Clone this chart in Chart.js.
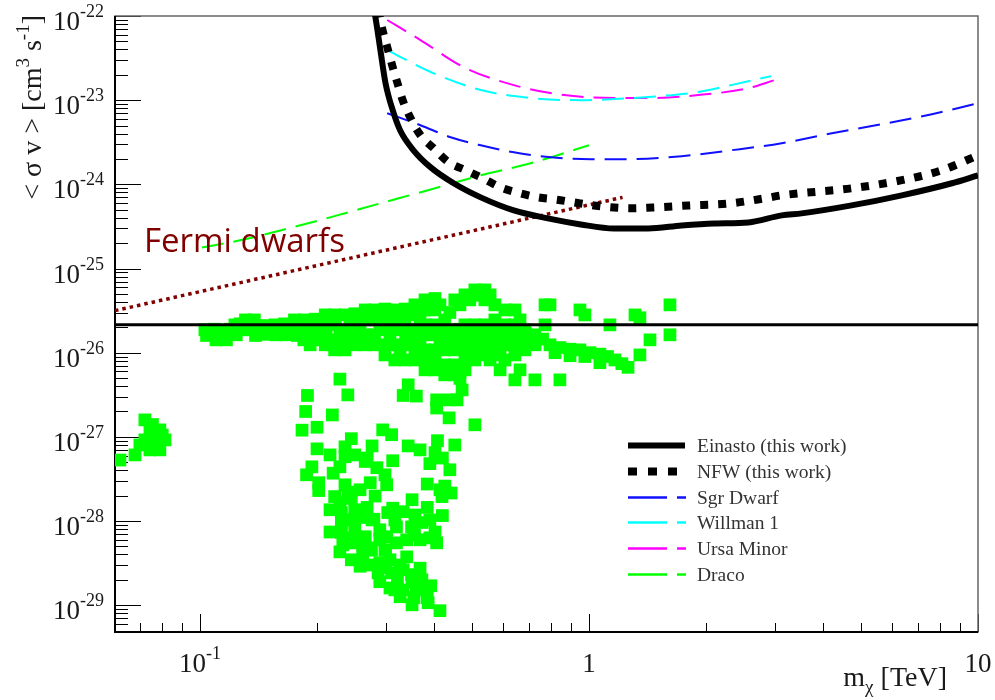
<!DOCTYPE html>
<html>
<head>
<meta charset="utf-8">
<title>Annihilation cross-section limits</title>
<script src="https://cdn.jsdelivr.net/npm/chart.js@4.4.1/dist/chart.umd.min.js"></script>
<style>
html,body{margin:0;padding:0;background:#ffffff;}
canvas{display:block;}
</style>
</head>
<body>
<canvas id="chart" width="995" height="700"></canvas>
<script>
// ---------------- data (mass in TeV, <sigma v> in cm^3 s^-1) ----------------
const einastoMass  = [0.279, 0.2825, 0.291, 0.300, 0.313, 0.327, 0.354, 0.392, 0.449, 0.527, 0.641, 0.784, 0.953, 1.16, 1.42, 1.73, 2.10, 2.57, 3.13, 3.52, 4.73, 6.37, 8.57, 10];
const einastoSigma = [1.3e-22, 9.7e-23, 3.94e-23, 1.59e-23, 7.6e-24, 4.39e-24, 2.54e-24, 1.59e-24, 1.03e-24, 7.0e-25, 4.9e-25, 3.94e-25, 3.34e-25, 2.99e-25, 2.99e-25, 3.25e-25, 3.43e-25, 3.53e-25, 4.28e-25, 4.52e-25, 5.62e-25, 7.4e-25, 1.03e-24, 1.28e-24];

const nfwMass  = [0.288, 0.291, 0.296, 0.303, 0.313, 0.322, 0.332, 0.348, 0.369, 0.399, 0.436, 0.482, 0.533, 0.593, 0.668, 0.739, 0.822, 0.915, 1.03, 1.16, 1.28, 1.45, 1.80, 2.28, 2.82, 3.13, 4.73, 6.37, 8.07, 10];
const nfwSigma = [1.2e-22, 8.96e-23, 6.28e-23, 4.28e-23, 2.47e-23, 1.59e-23, 1.0e-23, 6.1e-24, 3.83e-24, 2.68e-24, 1.83e-24, 1.47e-24, 1.18e-24, 9.2e-25, 7.8e-25, 7.0e-25, 6.6e-25, 6.1e-25, 5.6e-25, 5.3e-25, 5.2e-25, 5.3e-25, 5.6e-25, 5.9e-25, 6.8e-25, 7.4e-25, 8.96e-25, 1.12e-24, 1.47e-24, 2.21e-24];

const sgrMass  = [0.303, 0.369, 0.441, 0.527, 0.641, 0.798, 1.01, 1.28, 1.73, 2.32, 3.13, 4.21, 5.66, 7.61, 10];
const sgrSigma = [7.0e-24, 5.04e-24, 3.63e-24, 2.91e-24, 2.40e-24, 2.10e-24, 1.99e-24, 1.99e-24, 2.16e-24, 2.54e-24, 3.08e-24, 4.05e-24, 5.18e-24, 6.8e-24, 9.2e-24];

const willmanMass  = [0.303, 0.392, 0.527, 0.708, 0.953, 1.16, 1.42, 1.91, 2.32, 2.94];
const willmanSigma = [3.94e-23, 2.16e-23, 1.32e-23, 1.06e-23, 1.0e-23, 1.03e-23, 1.09e-23, 1.25e-23, 1.51e-23, 1.93e-23];

const ursaMass  = [0.303, 0.369, 0.476, 0.641, 0.863, 1.16, 1.42, 1.91, 2.57, 3.0];
const ursaSigma = [8.96e-23, 5.18e-23, 2.47e-23, 1.51e-23, 1.15e-23, 1.06e-23, 1.06e-23, 1.15e-23, 1.39e-23, 1.73e-23];

const dracoMass  = [0.1012, 0.1268, 0.161, 0.216, 0.291, 0.392, 0.527, 0.708, 1.0];
const dracoSigma = [1.78e-25, 2.16e-25, 2.83e-25, 4.05e-25, 5.94e-25, 8.7e-25, 1.28e-24, 1.78e-24, 2.91e-24];

const fermiMass  = [0.0605, 1.22];
const fermiSigma = [3.16e-26, 7.0e-25];

const relicMass  = [0.0605, 10];
const relicSigma = [2.15e-26, 2.15e-26];

// model scan points [mass, <sigma v>]
const scanLight = [[0.0722,1.59e-27],[0.0744,1.21e-27],[0.0789,1.21e-27],[0.0722,9.2e-28],[0.0766,9.2e-28],[0.0813,9.2e-28],[0.0789,7.0e-28],[0.0744,7.0e-28],[0.0701,8.0e-28],[0.0681,6.1e-28],[0.0623,5.3e-28],[0.0755,1.4e-27],[0.0800,1.05e-27]];

const scanBandLow = [[0.103,1.87e-26],[0.104,1.6e-26],[0.109,1.9e-26],[0.110,1.42e-26],[0.116,1.85e-26],[0.117,1.42e-26],[0.123,2.14e-26],[0.124,1.63e-26],[0.131,2.45e-26],[0.130,1.87e-26],[0.138,2.45e-26],[0.139,1.6e-26],[0.147,2.1e-26],[0.146,1.65e-26],[0.156,2.14e-26],[0.157,1.63e-26],[0.165,2.2e-26],[0.166,1.63e-26],[0.175,2.45e-26],[0.174,1.87e-26],
 [0.106,1.7e-26],[0.113,1.6e-26],[0.120,1.9e-26],[0.127,2.2e-26],[0.134,2.0e-26],[0.142,1.9e-26],[0.151,1.85e-26],[0.160,1.9e-26],[0.170,2.0e-26],[0.178,1.6e-26]];

const scanBandMid = [[0.186,2.45e-26],[0.187,1.87e-26],[0.185,1.42e-26],
 [0.198,2.5e-26],[0.197,1.87e-26],[0.199,1.42e-26],[0.192,1.24e-26],
 [0.210,2.81e-26],[0.209,2.14e-26],[0.211,1.63e-26],[0.210,1.24e-26],
 [0.222,2.81e-26],[0.223,2.14e-26],[0.221,1.42e-26],[0.222,1.08e-26],
 [0.236,2.81e-26],[0.235,1.87e-26],[0.237,1.42e-26],[0.236,1.08e-26],
 [0.250,2.9e-26],[0.251,2.14e-26],[0.249,1.63e-26],[0.250,1.24e-26],
 [0.266,3.22e-26],[0.265,2.45e-26],[0.267,1.63e-26],[0.266,1.24e-26],
 [0.282,3.22e-26],[0.283,2.45e-26],[0.281,1.63e-26],[0.282,1.24e-26],
 [0.299,3.3e-26],[0.298,2.45e-26],[0.300,1.87e-26],[0.299,1.24e-26],[0.299,9.4e-27],
 [0.317,3.22e-26],[0.318,2.45e-26],[0.316,1.87e-26],[0.317,1.24e-26],[0.317,8.2e-27],
 [0.337,3.3e-26],[0.336,2.45e-26],[0.338,1.63e-26],[0.337,1.24e-26],[0.337,8.2e-27],
 [0.357,3.70e-26],[0.356,2.81e-26],[0.358,1.87e-26],[0.357,1.42e-26],[0.357,1.08e-26],[0.357,8.2e-27],
 [0.379,4.24e-26],[0.378,3.22e-26],[0.380,2.14e-26],[0.379,1.63e-26],[0.379,1.08e-26],[0.379,8.2e-27],[0.379,6.25e-27],
 [0.402,4.4e-26],[0.401,3.22e-26],[0.403,2.14e-26],[0.402,1.63e-26],[0.402,1.08e-26],[0.402,8.2e-27],[0.402,6.25e-27],
 [0.192,2.1e-26],[0.204,1.65e-26],[0.216,2.45e-26],[0.229,1.65e-26],[0.243,2.4e-26],[0.258,1.9e-26],[0.274,2.8e-26],[0.274,1.42e-26],[0.290,2.1e-26],[0.308,2.8e-26],[0.308,1.5e-26],[0.327,2.1e-26],[0.327,1.0e-26],[0.347,1.9e-26],[0.368,2.6e-26],[0.368,1.25e-26],[0.390,1.9e-26],[0.390,9.4e-27],[0.414,3.7e-26],[0.414,1.3e-26]];

const scanBandHigh = [[0.426,2.45e-26],[0.426,1.87e-26],[0.425,1.42e-26],[0.427,1.08e-26],[0.426,7.16e-27],[0.426,5.45e-27],
 [0.452,1.87e-26],[0.453,1.42e-26],[0.451,1.08e-26],[0.452,7.16e-27],[0.452,5.45e-27],
 [0.480,2.14e-26],[0.481,1.63e-26],[0.479,1.08e-26],[0.480,8.2e-27],[0.480,6.25e-27],
 [0.509,2.14e-26],[0.510,1.63e-26],[0.508,1.08e-26],[0.509,8.2e-27],
 [0.540,2.14e-26],[0.541,1.63e-26],[0.539,1.24e-26],[0.540,9.4e-27],
 [0.573,2.45e-26],[0.574,1.63e-26],[0.572,1.24e-26],[0.573,9.4e-27],
 [0.608,2.14e-26],[0.609,1.63e-26],[0.607,1.24e-26],
 [0.645,2.14e-26],[0.646,1.63e-26],[0.644,1.24e-26],[0.645,9.4e-27],
 [0.685,1.87e-26],[0.686,1.42e-26],[0.684,1.08e-26],
 [0.726,1.63e-26],[0.727,1.24e-26],
 [0.439,3.0e-26],[0.466,1.9e-26],[0.466,1.25e-26],[0.494,1.9e-26],[0.494,1.25e-26],[0.525,1.9e-26],[0.525,1.2e-26],[0.557,1.9e-26],[0.557,1.1e-26],[0.591,1.9e-26],[0.591,1.1e-26],[0.627,1.85e-26],[0.665,1.4e-26],[0.705,1.6e-26],[0.439,6.2e-27],[0.466,5.8e-27],
 [0.452,4.24e-26],[0.480,4.86e-26],[0.509,5.57e-26],[0.540,5.57e-26],[0.557,4.86e-26],[0.466,3.70e-26],[0.494,4.24e-26],[0.540,4.24e-26],[0.573,3.70e-26],[0.608,3.22e-26],[0.645,3.22e-26],[0.665,2.45e-26],[0.525,4.8e-26]];

const scanHeavy = [[0.557,8.2e-27],[0.608,8.2e-27],[0.591,6.25e-27],[0.665,6.25e-27],[0.645,4.75e-27],[0.726,4.75e-27],[0.842,4.75e-27],
 [0.771,3.70e-26],[0.794,3.70e-26],[0.948,3.22e-26],[0.976,2.81e-26],[1.132,2.14e-26],[1.313,2.81e-26],[1.352,2.6e-26],[1.615,3.70e-26],[1.615,1.63e-26],[1.435,1.42e-26],[1.352,9.4e-27],[0.771,2.14e-26],
 [0.794,1.24e-26],[0.842,1.15e-26],[0.894,1.1e-26],[0.948,1.08e-26],[1.006,1.0e-26],[1.067,9.6e-27],[1.116,9.0e-27],[1.166,8.2e-27],[1.215,7.4e-27],[1.26,6.7e-27],[0.818,1.0e-26],[0.894,9.2e-27],[0.976,9.0e-27],[1.067,7.6e-27],[0.760,1.45e-26]];

const scanLowSigma = [[0.229,4.85e-27],[0.240,3.15e-27],[0.189,3.1e-27],[0.187,2.0e-27],[0.219,1.82e-27],[0.200,1.3e-27],[0.183,1.2e-27],
 [0.343,4.15e-27],[0.333,3.1e-27],[0.360,3.05e-27],[0.406,2.75e-27],[0.406,2.2e-27],[0.437,2.75e-27],[0.458,2.75e-27],[0.472,3.61e-27],[0.466,4.95e-27],
 [0.437,1.68e-27],[0.509,1.39e-27],[0.295,1.21e-27],[0.311,1.06e-27],[0.245,9.5e-28],[0.200,7.2e-28],[0.236,7.6e-28],[0.277,7.8e-28],[0.343,7.8e-28],[0.408,9.0e-28],
 [0.236,5.8e-28],[0.269,5.6e-28],[0.313,5.2e-28],[0.402,6.5e-28],[0.420,5.6e-28],[0.194,4.4e-28],[0.188,3.54e-28],[0.220,3.7e-28],[0.229,4.4e-28],[0.266,5.1e-28],[0.285,4.3e-28],[0.390,4.8e-28],
 [0.202,2.85e-28],[0.202,2.3e-28],[0.236,2.69e-28],[0.274,2.85e-28],[0.302,2.69e-28],[0.384,2.75e-28],[0.426,2.6e-28],[0.442,2.15e-28],[0.419,1.95e-28],[0.414,2.35e-28],
 [0.229,1.65e-28],[0.245,1.85e-28],[0.282,1.98e-28],[0.351,1.79e-28],[0.231,1.26e-28],[0.250,1.36e-28],[0.269,1.45e-28],[0.313,1.42e-28],[0.333,1.29e-28],[0.384,1.45e-28],
 [0.216,7.4e-29],[0.231,9.6e-29],[0.243,1.03e-28],[0.304,1.26e-28],[0.357,1.18e-28],[0.420,1.16e-28],[0.231,7.3e-29],[0.250,7.86e-29],[0.266,6.5e-29],[0.290,7.86e-29],[0.302,6.5e-29],[0.320,8.5e-29],[0.350,8.5e-29],[0.372,9.6e-29],[0.402,7.4e-29],
 [0.233,5.21e-29],[0.245,5.5e-29],[0.262,5.21e-29],[0.290,5.98e-29],[0.320,5.5e-29],[0.340,5.98e-29],[0.406,5.5e-29],
 [0.229,4.3e-29],[0.245,3.46e-29],[0.262,3.75e-29],[0.290,3.2e-29],[0.308,3.46e-29],[0.340,3.75e-29],
 [0.287,2.42e-29],[0.311,2.42e-29],[0.333,2.63e-29],[0.368,2.75e-29],[0.290,1.9e-29],[0.322,2.1e-29],[0.351,1.9e-29],[0.372,2.0e-29],
 [0.308,1.6e-29],[0.333,1.52e-29],[0.360,1.52e-29],[0.327,1.26e-29],[0.355,1.23e-29],[0.384,1.23e-29],[0.351,1.01e-29],[0.386,1.07e-29],[0.414,8.6e-30],
 [0.240,2.2e-28],[0.258,1.1e-28],[0.280,1.05e-28],[0.255,6.0e-29],[0.276,4.5e-29],[0.300,4.5e-29],[0.356,6.8e-29],[0.390,6.3e-29],[0.258,2.9e-29],[0.300,2.8e-29],[0.350,2.3e-29],[0.392,1.7e-29],
 [0.222,1.95e-28],[0.258,2.35e-28],[0.216,1.36e-28],[0.277,1.03e-28],[0.236,6.3e-29],[0.274,4.8e-29],[0.317,1.03e-28],[0.368,5.98e-29],[0.390,1.03e-28],[0.299,4.55e-29],[0.327,3.0e-29],[0.357,2.0e-29],[0.317,1.52e-29],[0.379,1.52e-29],[0.274,3.0e-29],
 [0.250,6.1e-28],[0.216,6.1e-28],[0.299,3.54e-28],[0.368,7.0e-28],[0.439,4.06e-28],[0.452,8.0e-28]];

// axis ticks
const yDecadeExps = [-22, -23, -24, -25, -26, -27, -28, -29];
const xMajorTicks = [0.1, 1, 10];
const xTickBase   = ['10', '1', '10'];
const xTickExp    = ['-1', '', ''];
const legendLabels = ['Einasto (this work)', 'NFW (this work)', 'Sgr Dwarf', 'Willman 1', 'Ursa Minor', 'Draco'];

// ---------------- helpers ----------------
const pairs = (xs, ys) => xs.map((x, i) => ({x: x, y: ys[i]}));
const pts = arr => arr.map(p => ({x: p[0], y: p[1]}));
const SERIF = '"Liberation Serif", "Times New Roman", serif';

function lineSet(label, xs, ys, color, width, dash, extra) {
  return Object.assign({
    label: label, data: pairs(xs, ys), showLine: true,
    borderColor: color, backgroundColor: color, borderWidth: width, borderDash: dash,
    borderCapStyle: 'butt', pointRadius: 0, pointHoverRadius: 0,
    cubicInterpolationMode: 'monotone', order: 1, clip: 0
  }, extra || {});
}
const scanStyle = {backgroundColor: '#00ff00', borderWidth: 0, pointStyle: 'rect', pointRadius: 9, pointHoverRadius: 9, showLine: false, order: 5};

function drawRich(ctx, segs, x, y, align) {
  let total = 0;
  segs.forEach(s => { ctx.font = s.font; s.w = ctx.measureText(s.text).width; total += s.w; });
  let cx = align === 'right' ? x - total : align === 'center' ? x - total / 2 : x;
  ctx.textAlign = 'left';
  ctx.textBaseline = 'alphabetic';
  segs.forEach(s => { ctx.font = s.font; ctx.fillText(s.text, cx, y + (s.dy || 0)); cx += s.w; });
}

const rootFrame = {
  id: 'rootFrame',
  beforeDatasetsDraw(chart) {
    const {ctx, chartArea: a, scales: {x, y}} = chart;
    ctx.save();
    ctx.strokeStyle = '#000';
    ctx.lineWidth = 1;
    for (let e = -30; e <= -22; e++) {
      for (let m = 1; m <= 9; m++) {
        const v = m * Math.pow(10, e);
        if (v < y.min * 0.999 || v > y.max * 1.001) continue;
        const py = Math.round(y.getPixelForValue(v)) + 0.5;
        ctx.beginPath(); ctx.moveTo(a.left, py); ctx.lineTo(a.left + (m === 1 ? 26 : 13), py); ctx.stroke();
      }
    }
    for (let e = -2; e <= 1; e++) {
      for (let m = 1; m <= 9; m++) {
        const v = m * Math.pow(10, e);
        if (v < x.min || v > x.max * 1.001) continue;
        const px = Math.round(x.getPixelForValue(v)) + 0.5;
        ctx.beginPath(); ctx.moveTo(px, a.bottom); ctx.lineTo(px, a.bottom - (m === 1 ? 18 : 9)); ctx.stroke();
      }
    }
    ctx.strokeStyle = '#666'; ctx.lineWidth = 1.5;
    ctx.strokeRect(a.left, a.top, a.right - a.left, a.bottom - a.top);
    ctx.strokeStyle = '#000'; ctx.lineWidth = 2;
    ctx.beginPath(); ctx.moveTo(a.left, a.top); ctx.lineTo(a.left, a.bottom); ctx.lineTo(a.right, a.bottom); ctx.stroke();

    // tick labels
    ctx.fillStyle = '#1a1a1a';
    yDecadeExps.forEach(e => {
      const py = y.getPixelForValue(Math.pow(10, e));
      drawRich(ctx, [{text: '10', font: '27px ' + SERIF, dy: 14}, {text: String(e), font: '18px ' + SERIF, dy: 1}], 104, py, 'right');
    });
    xMajorTicks.forEach((v, i) => {
      const px = x.getPixelForValue(v);
      const segs = [{text: xTickBase[i], font: '27px ' + SERIF, dy: 0}];
      if (xTickExp[i]) segs.push({text: xTickExp[i], font: '18px ' + SERIF, dy: -13});
      drawRich(ctx, segs, px, 672, 'center');
    });
    // axis titles
    drawRich(ctx, [{text: 'm', font: '28px ' + SERIF}, {text: 'χ', font: '19px ' + SERIF, dy: 7}, {text: ' [TeV]', font: '28px ' + SERIF}], 947, 686, 'right');
    ctx.save();
    ctx.translate(41, 15);
    ctx.rotate(-Math.PI / 2);
    drawRich(ctx, [{text: '< σ v > [cm', font: '28px ' + SERIF}, {text: '3', font: '19px ' + SERIF, dy: -12}, {text: ' s', font: '28px ' + SERIF}, {text: '-1', font: '19px ' + SERIF, dy: -12}, {text: ']', font: '28px ' + SERIF}], 0, 0, 'right');
    ctx.restore();
    ctx.restore();
  },
  afterDatasetsDraw(chart) {
    const ctx = chart.ctx;
    ctx.save();
    // Fermi dwarfs annotation
    ctx.fillStyle = '#800000';
    ctx.font = '33px "Open Sans", "DejaVu Sans", sans-serif';
    ctx.textAlign = 'left'; ctx.textBaseline = 'alphabetic';
    ctx.fillText('Fermi dwarfs', 144, 252);
    // legend
    const rowY0 = 445, rowStep = 25.8;
    legendLabels.forEach((lab, i) => {
      const ds = chart.data.datasets.find(d => d.label === lab);
      const yy = Math.round(rowY0 + i * rowStep) + 0.5;
      ctx.strokeStyle = ds.borderColor;
      ctx.lineCap = 'butt';
      if (i === 0) { ctx.lineWidth = 6; ctx.setLineDash([]); ctx.beginPath(); ctx.moveTo(628, yy); ctx.lineTo(685, yy); ctx.stroke(); }
      else if (i === 1) { ctx.lineWidth = 8; ctx.setLineDash([9, 11]); ctx.beginPath(); ctx.moveTo(628, yy); ctx.lineTo(678, yy); ctx.stroke(); }
      else { ctx.lineWidth = 2.5; ctx.setLineDash([39, 10, 9, 100]); ctx.beginPath(); ctx.moveTo(628, yy); ctx.lineTo(686, yy); ctx.stroke(); }
      ctx.setLineDash([]);
      ctx.fillStyle = '#333';
      ctx.font = '19.5px ' + SERIF;
      ctx.textBaseline = 'middle';
      ctx.fillText(lab, 697, yy + 1);
    });
    ctx.restore();
  }
};

new Chart(document.getElementById('chart'), {
  type: 'scatter',
  data: {
    datasets: [
      lineSet('Einasto (this work)', einastoMass, einastoSigma, '#000000', 6, []),
      lineSet('NFW (this work)', nfwMass, nfwSigma, '#000000', 8, [8, 10]),
      lineSet('Sgr Dwarf', sgrMass, sgrSigma, '#1010ff', 2, [22, 10]),
      lineSet('Willman 1', willmanMass, willmanSigma, '#00ffff', 2, [22, 10]),
      lineSet('Ursa Minor', ursaMass, ursaSigma, '#ff00ff', 2, [22, 10]),
      lineSet('Draco', dracoMass, dracoSigma, '#00ff00', 2, [22, 10]),
      lineSet('Fermi dwarfs', fermiMass, fermiSigma, '#800000', 3.5, [3.5, 4], {cubicInterpolationMode: 'default', tension: 0}),
      lineSet('Thermal relic', relicMass, relicSigma, '#000000', 3, [], {cubicInterpolationMode: 'default', tension: 0, order: 0}),
      Object.assign({label: 'Scan (light)', data: pts(scanLight)}, scanStyle),
      Object.assign({label: 'Scan (band low)', data: pts(scanBandLow)}, scanStyle),
      Object.assign({label: 'Scan (band mid)', data: pts(scanBandMid)}, scanStyle),
      Object.assign({label: 'Scan (band high)', data: pts(scanBandHigh)}, scanStyle),
      Object.assign({label: 'Scan (heavy)', data: pts(scanHeavy)}, scanStyle),
      Object.assign({label: 'Scan (low sigma)', data: pts(scanLowSigma)}, scanStyle)
    ]
  },
  options: {
    responsive: false,
    devicePixelRatio: 1,
    animation: false,
    events: [],
    layout: {padding: {left: 115, right: 17, top: 16, bottom: 68}},
    plugins: {legend: {display: false}, tooltip: {enabled: false}, title: {display: false}},
    scales: {
      x: {type: 'logarithmic', min: 0.0605, max: 10, display: false},
      y: {type: 'logarithmic', min: 4.8e-30, max: 1e-22, display: false}
    }
  },
  plugins: [rootFrame]
});
</script>
</body>
</html>
